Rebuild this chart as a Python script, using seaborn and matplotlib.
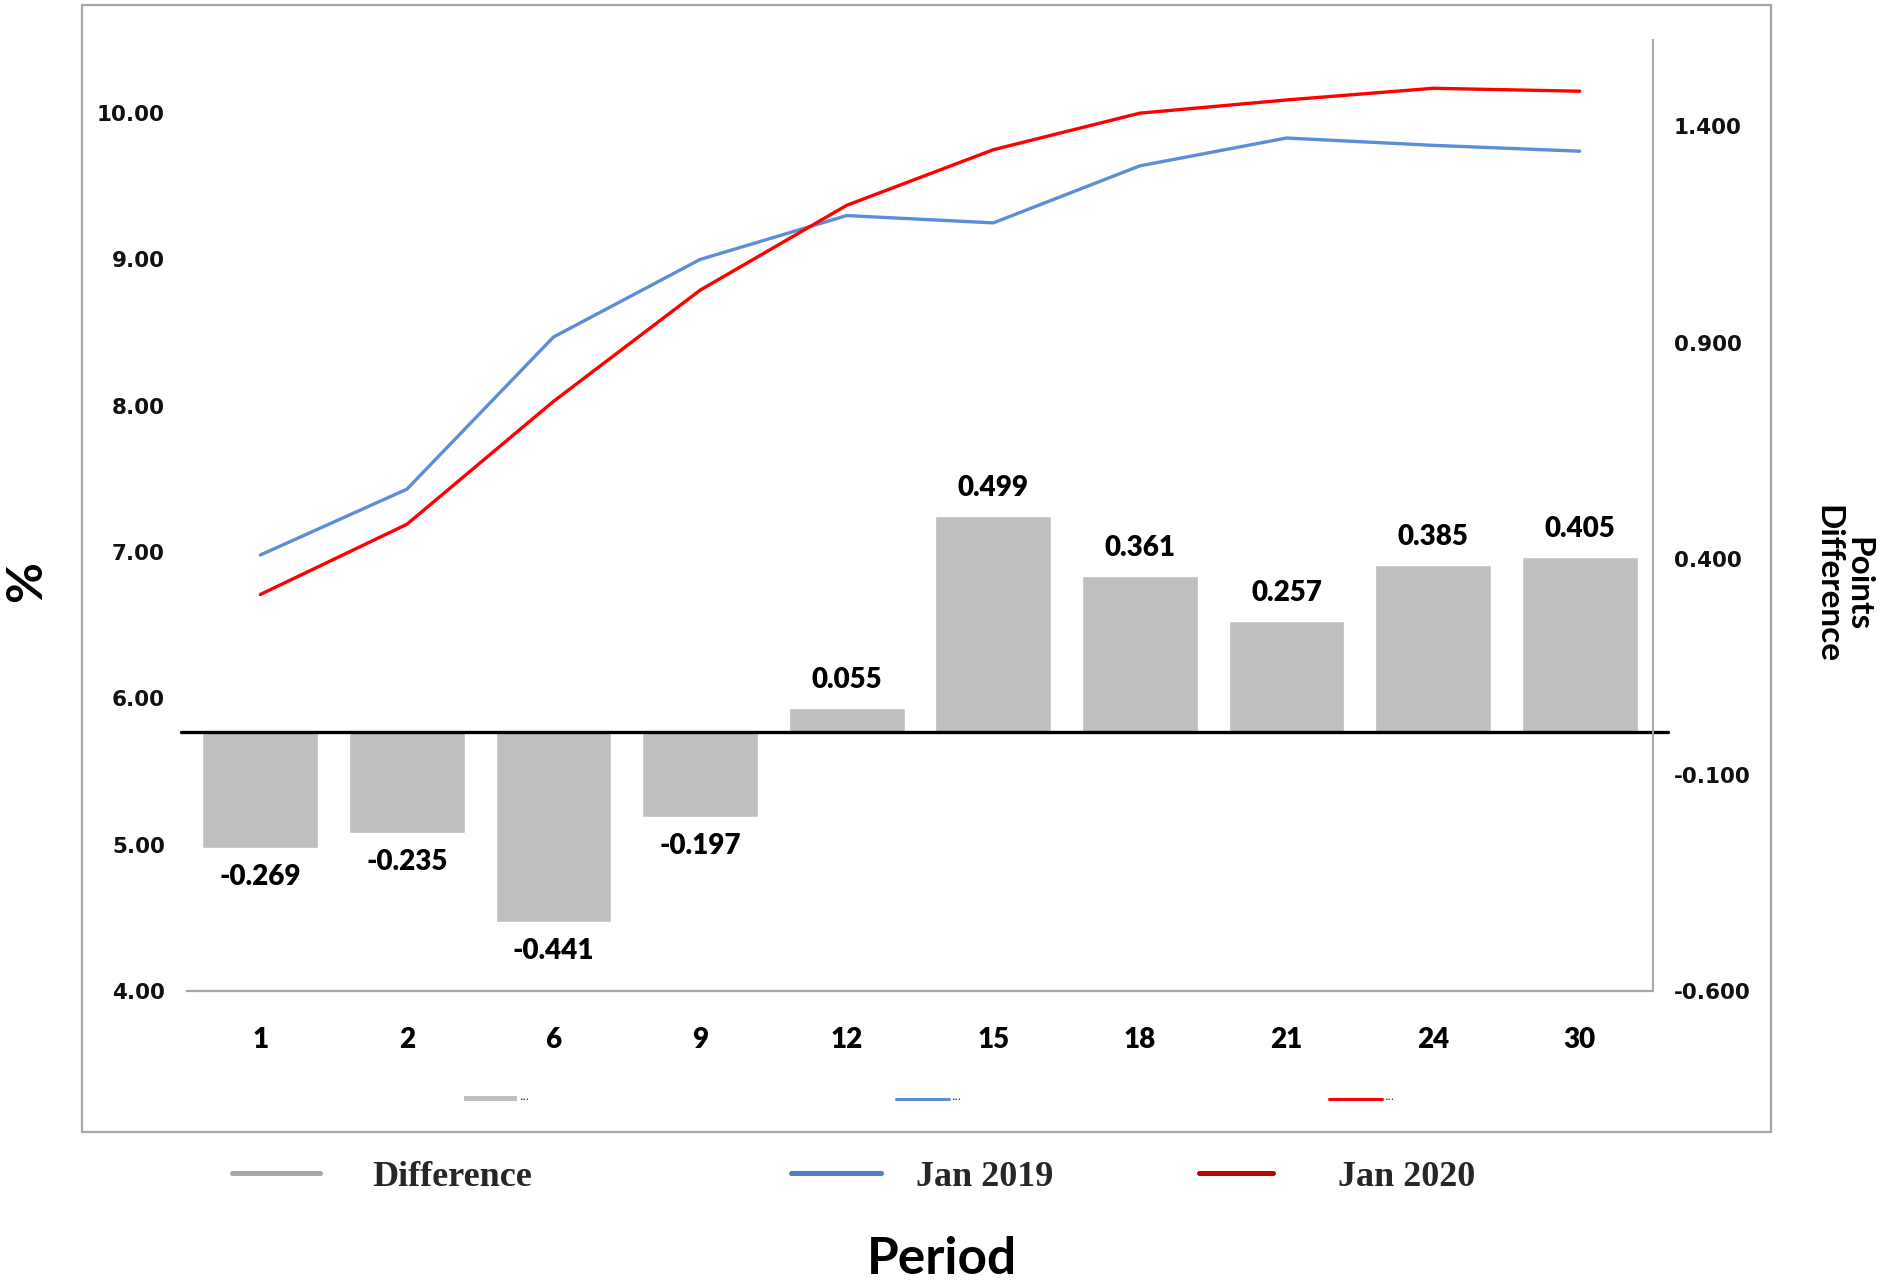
import numpy as np
import pandas as pd
import matplotlib
matplotlib.use("Agg")
import matplotlib.pyplot as plt
import matplotlib.patches as mpatches
from matplotlib.lines import Line2D
import seaborn as sns

# ---------------- data ----------------
periods = ['1', '2', '6', '9', '12', '15', '18', '21', '24', '30']
difference = [-0.269, -0.235, -0.441, -0.197, 0.055, 0.499, 0.361, 0.257, 0.385, 0.405]
jan2019 = [6.98, 7.43, 8.47, 9.00, 9.30, 9.25, 9.64, 9.83, 9.78, 9.74]
jan2020 = [6.71, 7.19, 8.03, 8.79, 9.37, 9.75, 10.00, 10.09, 10.17, 10.15]
left_ticks = [4, 5, 6, 7, 8, 9, 10]
right_ticks = [-0.6, -0.1, 0.4, 0.9, 1.4]

sns.set_theme(style="white")
plt.rcParams['font.family'] = ['Lato', 'DejaVu Sans']

W, H = 1889, 1284
fig = plt.figure(figsize=(W / 100, H / 100), dpi=100)

# frame around chart area
frame = mpatches.Rectangle((82 / W, 1 - 1132 / H), (1771 - 82) / W, (1132 - 5) / H,
                           transform=fig.transFigure, fill=False,
                           edgecolor='#A6A6A6', linewidth=1.6)
fig.patches.append(frame)

ax = fig.add_axes([187 / W, 1 - 991 / H, (1653 - 187) / W, (991 - 40) / H])
ax2 = ax.twinx()

pos = np.arange(len(periods))
df = pd.DataFrame({'period': periods, 'pos': pos, 'diff': difference,
                   'j19': jan2019, 'j20': jan2020})

# bars on right axis
sns.barplot(data=df, x='period', y='diff', ax=ax2, color='#BFBFBF',
            saturation=1, width=0.79, order=periods)
# lines on left axis
sns.lineplot(data=df, x='pos', y='j19', ax=ax, color='#5B8ED6', linewidth=2.4)
sns.lineplot(data=df, x='pos', y='j20', ax=ax, color='#FF0000', linewidth=2.4)

ax.set_xlim(-0.5, len(periods) - 0.5)
ax2.set_xlim(-0.5, len(periods) - 0.5)
ax.set_ylim(4, 10.5)
ax2.set_ylim(-0.6, 1.6)

ax.set_yticks(left_ticks)
ax.set_yticklabels([f"{v:.2f}" for v in left_ticks])
ax2.set_yticks(right_ticks)
ax2.set_yticklabels([f"{v:.3f}" for v in right_ticks])
ax.set_xticks(pos)
ax.set_xticklabels(periods)

for lab in ax.get_yticklabels() + ax2.get_yticklabels():
    lab.set_fontfamily('DejaVu Sans')
    lab.set_fontweight('bold')
    lab.set_fontsize(15.5)
    lab.set_color('#111111')
for lab in ax.get_xticklabels():
    lab.set_fontweight('heavy')
    lab.set_fontsize(20)
    lab.set_color('black')

ax.tick_params(axis='y', length=0, pad=16)
ax2.tick_params(axis='y', length=0, pad=15)
ax.tick_params(axis='x', length=0, pad=26)
ax2.tick_params(axis='x', length=0, labelbottom=False)

ax.set_xlabel('')
ax.set_ylabel('')
ax2.set_xlabel('')
ax2.set_ylabel('')

for s in ['left', 'top', 'right']:
    ax.spines[s].set_visible(False)
ax.spines['bottom'].set_color('#A6A6A6')
ax.spines['bottom'].set_linewidth(1.6)
for s in ['left', 'top', 'bottom']:
    ax2.spines[s].set_visible(False)
ax2.spines['right'].set_color('#A6A6A6')
ax2.spines['right'].set_linewidth(1.4)
ax.grid(False)
ax2.grid(False)

# zero line for difference bars
ax2.axhline(0, xmin=-0.004, xmax=1.01, color='black', linewidth=2.4, clip_on=False)

# data labels
for p, v in zip(pos, difference):
    off = 20 if v >= 0 else -21
    ax2.annotate(f"{v:.3f}", xy=(p, v), xytext=(0, off), textcoords='offset points',
                 ha='center', va='center', fontsize=20, fontweight='heavy', color='black')

# inner (tiny) legend inside the frame
inner_y = 1 - 1099 / H
inner_items = [
    (mpatches.Patch(facecolor='#BFBFBF', edgecolor='none'), 464),
    (Line2D([], [], color='#5B8ED6', linewidth=2.2), 896),
    (Line2D([], [], color='#FF0000', linewidth=2.2), 1329),
]
for h, x0 in inner_items:
    leg = fig.legend([h], ['\u2022\u2022\u2022'], loc='center left',
                     bbox_to_anchor=(x0 / W, inner_y),
                     frameon=False, fontsize=4, handlelength=9.5, handleheight=0.9,
                     handletextpad=0.5, borderpad=0, borderaxespad=0)
    for t in leg.get_texts():
        t.set_color('#333333')
        t.set_fontfamily('DejaVu Sans')

# outer legend below frame
outer_y = 1 - 1177 / H
fs_px = 26 * 100 / 72
outer_items = [
    ('#A6A6A6', 'Difference', 232, 88, 52),
    ('#4F7FC0', 'Jan 2019', 791, 90, 35),
    ('#C00000', 'Jan 2020', 1199, 74, 65),
]
for col, lab, x0, hl, gap in outer_items:
    fig.legend([Line2D([], [], color=col, linewidth=3.6)], [lab], loc='center left',
               bbox_to_anchor=(x0 / W, outer_y), frameon=False,
               prop={'family': 'Liberation Serif', 'weight': 'bold', 'size': 26},
               handlelength=hl / fs_px, handletextpad=gap / fs_px,
               borderpad=0, borderaxespad=0)

# axis titles
fig.text(26.5 / W, 1 - 582 / H, '%', rotation=90, ha='center', va='center',
         fontsize=36, fontweight='bold', color='black')
fig.text(1843 / W, 1 - 584 / H, 'Points\nDifference', rotation=-90, ha='center',
         va='center', multialignment='center', fontsize=24, fontweight='bold',
         color='black', linespacing=1.05)
fig.text(942 / W, 1 - 1259 / H, 'Period', ha='center', va='center',
         fontsize=37, fontweight='bold', color='black')

fig.savefig('out.png', dpi=100)
